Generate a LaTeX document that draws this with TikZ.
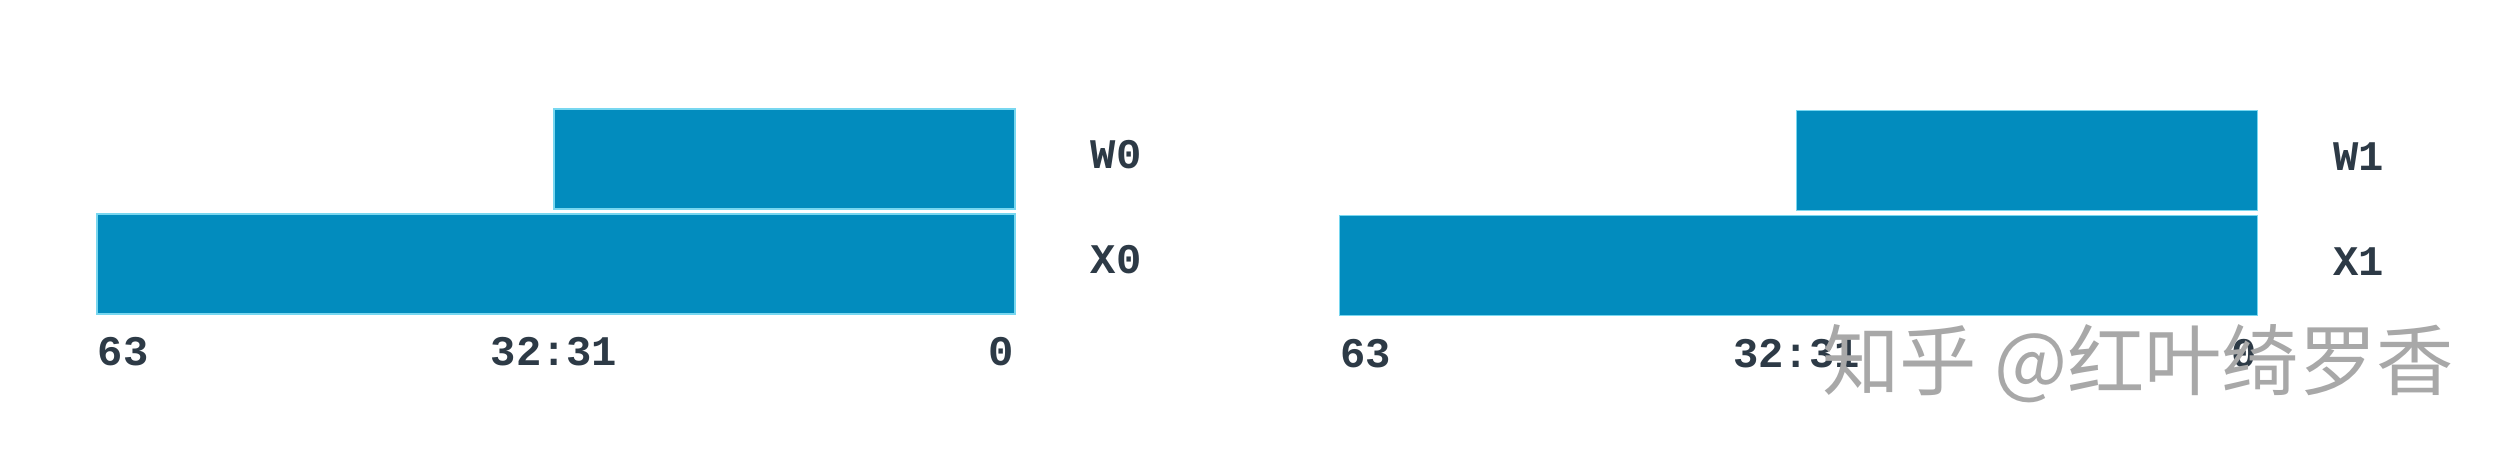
\documentclass[tikz,border=0pt]{standalone}
\usepackage{fontspec}
\setmonofont{Liberation Mono}
\newfontfamily\cjkfont{Noto Sans CJK SC}
\usetikzlibrary{positioning}
\definecolor{regblue}{RGB}{2,140,190}
\definecolor{regedge}{RGB}{120,215,240}
\definecolor{labelgray}{RGB}{45,58,70}
\definecolor{markgray}{RGB}{168,168,168}

\begin{document}
\begin{tikzpicture}[
reg/.style={rectangle, draw=regedge, line width=0.3pt, fill=regblue, minimum height=10mm, inner sep=0pt, outer sep=0pt},
xreg/.style={reg, minimum width=91.8mm},
wreg/.style={reg, minimum width=46.1mm},
lbl/.style={font=\ttfamily\bfseries\fontsize{12}{14}\selectfont, text=labelgray, inner sep=0pt},
regname/.style={lbl, yshift=0.4mm},
wmark/.style={font=\cjkfont\fontsize{22}{26}\selectfont, text=markgray, inner sep=0pt},]

\useasboundingbox (0,0) rectangle (25.02,-4.62);

\node[xreg] (X0) at (5.56,-2.64) {};
\node[wreg] (W0) [above left=0.5mm and 0mm of X0.north east] {};
\node[regname] (W0_name) [right=7.5mm of W0] {W0};
\node[regname] (X0_name) [right=7.5mm of X0] {X0};
\coordinate (X0_mid) at (W0.south west |- X0.south);
\node[lbl] (X0_hi)  [below right=2.3mm and 0mm of X0.south west] {63};
\node[lbl] (X0_cut) [below=2.3mm of X0_mid] {32:31};
\node[lbl] (X0_lo)  [below left=2.3mm and 0mm of X0.south east] {0};

\node[xreg] (X1) at (17.985,-2.655) {};
\node[wreg] (W1) [above left=0.5mm and 0mm of X1.north east] {};
\node[regname] (W1_name) [right=7.5mm of W1] {W1};
\node[regname] (X1_name) [right=7.5mm of X1] {X1};
\coordinate (X1_mid) at (W1.south west |- X1.south);
\node[lbl] (X1_hi)  [below right=2.3mm and 0mm of X1.south west] {63};
\node[lbl] (X1_cut) [below=2.3mm of X1_mid] {32:31};
\node[lbl] (X1_lo)  [below left=2.3mm and 0mm of X1.south east] {0};

\node[wmark] (zhihu) at (21.38,-3.64) {知乎 @红叶绮罗香};

\end{tikzpicture}
\end{document}
